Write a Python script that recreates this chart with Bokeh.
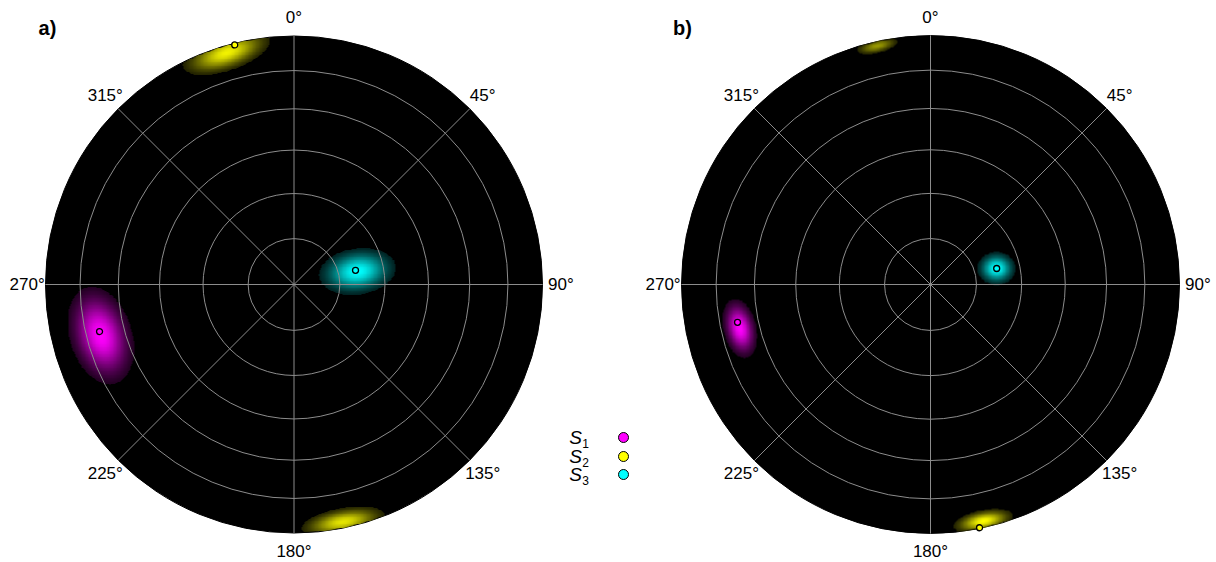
import numpy as np
from bokeh.plotting import figure
from bokeh.layouts import row
from bokeh.models import Range1d
from bokeh.core.properties import value
from bokeh.embed import file_html
from bokeh.resources import INLINE

# ---------------- data ----------------
tick_angles = [0, 45, 90, 135, 180, 225, 270, 315]
tick_labels = ["0°", "45°", "90°", "135°", "180°", "225°", "270°", "315°"]
ring_inclinations = [15, 30, 45, 60, 75]
set_names = ["S", "S", "S"]
set_subs = ["1", "2", "3"]

# panel a : principal directions (trend, plunge) for S1, S2, S3
a_point_trend = [256.4, 346.1, 77.0]
a_point_plunge = [20.6, 0.8, 69.3]
# panel a : density lobes
a_blob_set = [0, 1, 1, 2]
a_blob_trend = [255.2, 343.8, 168.3, 78.4]
a_blob_plunge = [20.6, 3.1, 2.6, 68.7]
a_blob_major = [0.100, 0.092, 0.086, 0.077]
a_blob_minor = [0.062, 0.036, 0.028, 0.046]
a_blob_orient = [-73, 19, 10, 8]
a_blob_peak = [1.0, 0.95, 0.9, 1.0]

# panel b
b_point_trend = [258.9, 168.6, 76.4]
b_point_plunge = [22.1, 0.4, 67.7]
b_blob_set = [0, 1, 1, 2]
b_blob_trend = [257.0, 167.4, 347.4, 76.4]
b_blob_plunge = [22.4, 2.8, 1.9, 67.7]
b_blob_major = [0.060, 0.060, 0.047, 0.038]
b_blob_minor = [0.033, 0.022, 0.016, 0.033]
b_blob_orient = [-77, 11, 13, 0]
b_blob_peak = [1.0, 1.0, 0.6, 1.0]

# ---------------- styles ----------------
SET_RGB = [(1.0, 0.0, 1.0), (1.0, 1.0, 0.0), (0.0, 1.0, 1.0)]
SET_HEX = ["#ff00ff", "#ffff00", "#00ffff"]
GRID = "#8c8c8c"
FONT = "Liberation Sans"


def project(trend, plunge):
    t = np.radians(np.asarray(trend, dtype=float))
    p = np.radians(np.asarray(plunge, dtype=float))
    r = np.sqrt(2.0) * np.sin((np.pi / 2 - p) / 2.0)
    return r * np.sin(t), r * np.cos(t)


def blob_rgba(trend, plunge, major, minor, orient, peak, sets, rpx):
    n = 640
    xs = np.linspace(-1, 1, n)
    X, Y = np.meshgrid(xs, xs)
    rgb = np.zeros((n, n, 3))
    cxs, cys = project(trend, plunge)
    for cx, cy, sa, sb, th, pk, s in zip(cxs, cys, major, minor, orient, peak, sets):
        th = np.radians(th)
        dx, dy = X - cx, Y - cy
        u = dx * np.cos(th) + dy * np.sin(th)
        v = -dx * np.sin(th) + dy * np.cos(th)
        inten = pk * np.exp(-0.5 * (u ** 2 / sa ** 2 + v ** 2 / sb ** 2))
        inten[inten < 0.13] = 0.0
        for c in range(3):
            rgb[:, :, c] += SET_RGB[s][c] * inten
    rgb = np.clip(rgb, 0, 1)
    alpha = rgb.max(axis=2)
    col = np.where(alpha[..., None] > 0, rgb / np.maximum(alpha[..., None], 1e-9), 0)
    R = np.hypot(X, Y)
    edge = np.clip((1 - R) * rpx + 0.5, 0, 1)
    alpha = alpha * edge
    img = np.empty((n, n, 4), dtype=np.uint8)
    img[:, :, :3] = (col * 255).astype(np.uint8)
    img[:, :, 3] = (alpha * 255).astype(np.uint8)
    return img.view(dtype=np.uint32).reshape((n, n))


def make_panel(width, height, cx_px, cy_px, rpx, tag, tag_px, pt, pp, bt, bp, bma, bmi, bo,
               bpk, bs, legend=False):
    x0 = (0 - cx_px) / rpx
    x1 = (width - cx_px) / rpx
    y1 = cy_px / rpx
    y0 = (cy_px - height) / rpx
    p = figure(width=width, height=height, x_range=Range1d(x0, x1), y_range=Range1d(y0, y1),
               output_backend="svg", toolbar_location=None,
               x_axis_location=None, y_axis_location=None, min_border=0)
    p.grid.visible = False
    p.outline_line_color = None
    p.background_fill_color = "white"
    p.border_fill_color = "white"

    p.circle(x=[0], y=[0], radius=1.0, fill_color="black", line_color="black", line_width=1)
    img = blob_rgba(bt, bp, bma, bmi, bo, bpk, bs, rpx)
    p.image_rgba(image=[img], x=-1, y=-1, dw=2, dh=2)

    ring_r = [np.sqrt(2.0) * np.sin(np.radians(i) / 2.0) for i in ring_inclinations]
    p.circle(x=[0] * len(ring_r), y=[0] * len(ring_r), radius=ring_r,
             fill_color=None, line_color=GRID, line_width=1)
    a = np.radians(tick_angles)
    p.multi_line(xs=[[0, np.sin(t)] for t in a], ys=[[0, np.cos(t)] for t in a],
                 line_color=GRID, line_width=1)

    lr = 1.074
    p.text(x=list(lr * np.sin(a)), y=list(lr * np.cos(a)), text=tick_labels,
           text_font=value(FONT), text_font_size="17px", text_align="center",
           text_baseline="middle", text_color="black")

    px, py = project(pt, pp)
    p.scatter(x=list(px), y=list(py), size=6, fill_color=SET_HEX, line_color="black",
              line_width=1.3)

    p.text(x=[(tag_px - cx_px) / rpx], y=[(cy_px - 27) / rpx], text=[tag],
           text_font=value(FONT), text_font_size="20px", text_font_style="bold",
           text_align="center", text_baseline="middle")

    if legend:
        lx = (575 - cx_px) / rpx
        sx = (585 - cx_px) / rpx
        mx = (623 - cx_px) / rpx
        rows_y = [(cy_px - yy) / rpx for yy in (437, 456, 474)]
        sub_y = [(cy_px - yy - 6) / rpx for yy in (437, 456, 474)]
        p.text(x=[lx] * 3, y=rows_y, text=set_names, text_font=value(FONT),
               text_font_size="19px", text_font_style="italic", text_align="center",
               text_baseline="middle")
        p.text(x=[sx] * 3, y=sub_y, text=set_subs, text_font=value(FONT),
               text_font_size="12px", text_align="center", text_baseline="middle")
        p.scatter(x=[mx] * 3, y=rows_y, size=10, fill_color=SET_HEX, line_color="black",
                  line_width=1)
    return p


pa = make_panel(640, 562, 293.5, 284, 248.5, "a)", 47, a_point_trend, a_point_plunge,
                a_blob_trend, a_blob_plunge, a_blob_major, a_blob_minor, a_blob_orient,
                a_blob_peak, a_blob_set, legend=True)
pb = make_panel(576, 562, 290, 284, 249.0, "b)", 42, b_point_trend, b_point_plunge,
                b_blob_trend, b_blob_plunge, b_blob_major, b_blob_minor, b_blob_orient,
                b_blob_peak, b_blob_set)

layout = row(pa, pb)
open("out.html", "w").write(file_html(layout, INLINE))
